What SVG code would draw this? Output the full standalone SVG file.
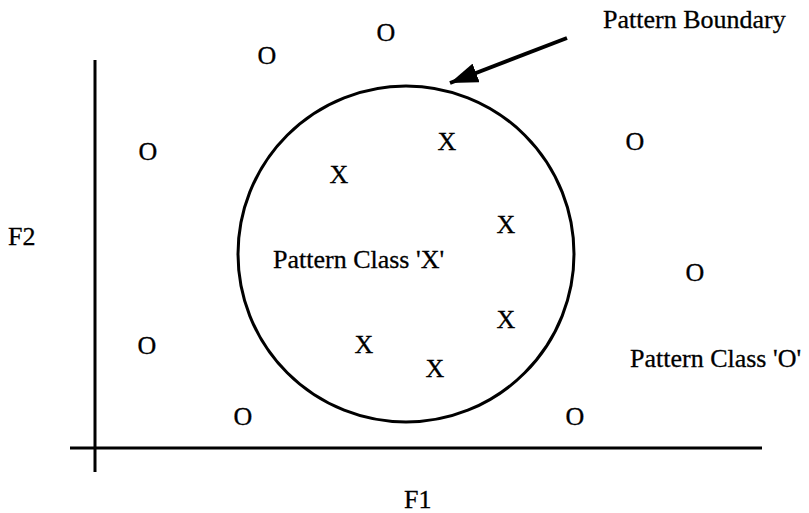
<svg xmlns="http://www.w3.org/2000/svg" width="809" height="513" viewBox="0 0 809 513">
<style>
text{font-family:"Liberation Serif","Times New Roman",serif;font-size:26px;fill:#000;stroke:#000;stroke-width:0.3}
.m{text-anchor:middle}
.ln{stroke:#000;fill:none}
</style>
<defs>
<marker id="ah" markerUnits="userSpaceOnUse" markerWidth="30" markerHeight="20" refX="28" refY="10" orient="auto">
<path d="M0,0 L28,10 L0,20 Z" fill="#000"/>
</marker>
</defs>
<rect width="809" height="513" fill="#fff"/>
<g id="axes">
<line class="ln" x1="95" y1="60" x2="95" y2="472" stroke-width="3"/>
<line class="ln" x1="70" y1="448" x2="762" y2="448" stroke-width="3"/>
<text x="8" y="245">F2</text>
<text x="404" y="508">F1</text>
</g>
<g id="boundary">
<circle class="ln" cx="406" cy="254" r="168" stroke-width="3"/>
</g>
<g id="connectors">
<line class="ln" x1="567" y1="38" x2="450" y2="83" stroke-width="4" marker-end="url(#ah)"/>
</g>
<g id="labels">
<text x="603" y="28">Pattern Boundary</text>
<text x="273" y="268">Pattern Class 'X'</text>
<text x="630" y="367">Pattern Class 'O'</text>
</g>
<g id="class-o">
<text class="m" x="267" y="64">O</text>
<text class="m" x="386" y="41">O</text>
<text class="m" x="148" y="160">O</text>
<text class="m" x="635" y="150">O</text>
<text class="m" x="695" y="281">O</text>
<text class="m" x="147" y="354">O</text>
<text class="m" x="243" y="425">O</text>
<text class="m" x="575" y="425">O</text>
</g>
<g id="class-x">
<text class="m" x="447" y="150">X</text>
<text class="m" x="339" y="183">X</text>
<text class="m" x="506" y="233">X</text>
<text class="m" x="506" y="328">X</text>
<text class="m" x="364" y="353">X</text>
<text class="m" x="435" y="377">X</text>
</g>
</svg>
